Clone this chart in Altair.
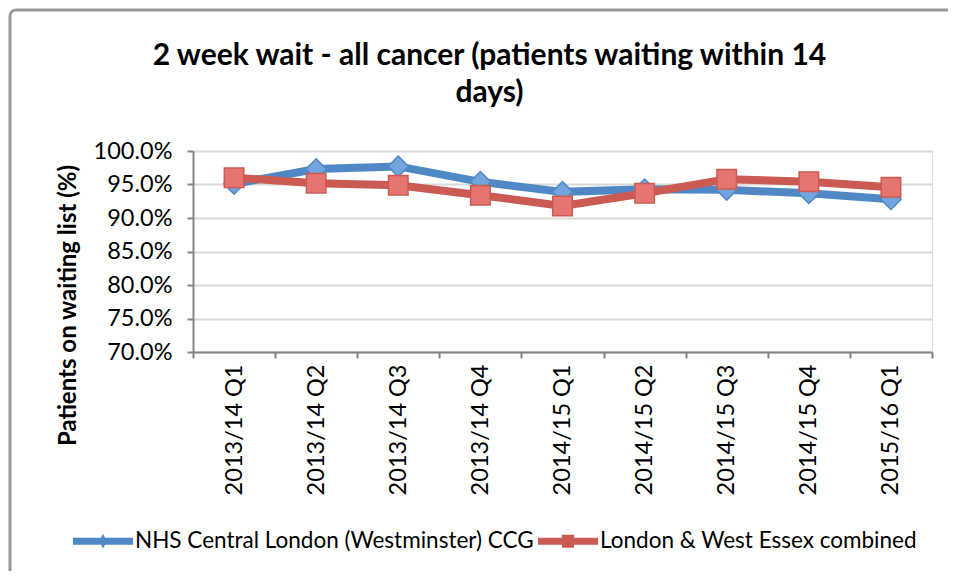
import altair as alt
import pandas as pd

categories = ["2013/14 Q1", "2013/14 Q2", "2013/14 Q3", "2013/14 Q4", "2014/15 Q1",
              "2014/15 Q2", "2014/15 Q3", "2014/15 Q4", "2015/16 Q1"]
series_names = ["NHS Central London (Westminster) CCG", "London & West Essex combined"]
central_london = [95.1, 97.3, 97.7, 95.4, 93.9, 94.3, 94.2, 93.7, 92.8]
london_west_essex = [96.0, 95.2, 94.9, 93.4, 91.8, 93.7, 95.8, 95.4, 94.6]
y_ticks = [70, 75, 80, 85, 90, 95, 100]

rows = []
for c, v in zip(categories, central_london):
    rows.append({"cat": c, "series": series_names[0], "value": v})
for c, v in zip(categories, london_west_essex):
    rows.append({"cat": c, "series": series_names[1], "value": v})
df = pd.DataFrame(rows)

FONT = "Lato"
BLUE = "#5088C6"
BLUE_L = "#72A4DE"
RED = "#CB5A53"
RED_L = "#E7756F"

x_enc = alt.X("cat:N", sort=categories, title=None,
              scale=alt.Scale(type="band", paddingInner=0, paddingOuter=0),
              axis=alt.Axis(labelAngle=270, labelFontSize=23.5, labelFont=FONT, labelColor="black",
                            labelPadding=6, tickBand="extent", tickSize=6, tickColor="#868686",
                            tickWidth=2, domainColor="#868686", domainWidth=2, grid=False,
                            labelAlign="right", labelBaseline="middle"))
y_enc = alt.Y("value:Q", scale=alt.Scale(domain=[70, 100], nice=False, zero=False),
              axis=alt.Axis(values=y_ticks, labelExpr="format(datum.value, '.1f') + '%'",
                            labelFontSize=23.5, labelFont=FONT, labelColor="black", labelPadding=15,
                            tickSize=6, tickColor="#868686", tickWidth=2,
                            domainColor="#868686", domainWidth=2,
                            gridColor="#D9D9D9", gridWidth=2,
                            title="Patients on waiting list (%)", titleFont=FONT,
                            titleFontSize=24, titleFontWeight="bold", titleColor="black",
                            titleX=-125, titleY=154, titleAlign="center",
                            titleBaseline="middle", titleAngle=270))

base = alt.Chart(df).encode(x=x_enc, y=y_enc)

blue_line = base.transform_filter(alt.datum.series == series_names[0]).mark_line(
    color=BLUE, strokeWidth=8)
blue_pts = base.transform_filter(alt.datum.series == series_names[0]).mark_point(
    shape="diamond", filled=True, fill=BLUE_L, stroke=BLUE, strokeWidth=1.5, size=420, opacity=1)
red_line = base.transform_filter(alt.datum.series == series_names[1]).mark_line(
    color=RED, strokeWidth=8)
red_pts = base.transform_filter(alt.datum.series == series_names[1]).mark_point(
    shape="square", filled=True, fill=RED_L, stroke=RED, strokeWidth=1.5, size=380, opacity=1)

blue_sym = "M-1,-0.12 L1,-0.12 L1,0.12 L-1,0.12 Z M0,-0.25 L0.12,0 L0,0.25 L-0.12,0 Z"
red_sym = "M-1,-0.12 L1,-0.12 L1,0.12 L-1,0.12 Z M-0.2,-0.22 L0.2,-0.22 L0.2,0.22 L-0.2,0.22 Z"

leg = alt.Legend(title=None, orient="none", direction="horizontal",
                 legendX=-120, legendY=360, symbolSize=3600,
                 symbolStrokeWidth=0, symbolOpacity=1,
                 labelFont=FONT, labelFontSize=22.5, labelColor="black",
                 labelOffset=2, columnPadding=4, labelLimit=600)

legend_layer = base.mark_point(filled=True, size=0).encode(
    color=alt.Color("series:N", scale=alt.Scale(domain=series_names, range=[BLUE, RED]),
                    legend=leg),
    shape=alt.Shape("series:N", scale=alt.Scale(domain=series_names, range=[blue_sym, red_sym]),
                    legend=leg),
)

border = alt.Chart(alt.Data(values=[{}])).mark_rect(
    fill=None, stroke="#999999", strokeWidth=3, cornerRadius=6).encode(
    x=alt.value(-183), y=alt.value(-141), x2=alt.value(1000), y2=alt.value(800))

chart = alt.layer(border, blue_line, blue_pts, red_line, red_pts, legend_layer).properties(
    width=739, height=201,
    title=alt.TitleParams(
        ["2 week wait - all cancer (patients waiting within 14", "days)"],
        font=FONT, fontSize=30, fontWeight="bold", color="black", anchor="middle",
        frame="group", dx=-73, offset=-99, lineHeight=37),
    autosize=alt.AutoSizeParams(type="none"),
    padding={"left": 185, "top": 143, "right": 16, "bottom": 219},
).configure_view(stroke=None).configure(background="white")

chart.save("out.html", embed_options={"renderer": "svg", "actions": False})
